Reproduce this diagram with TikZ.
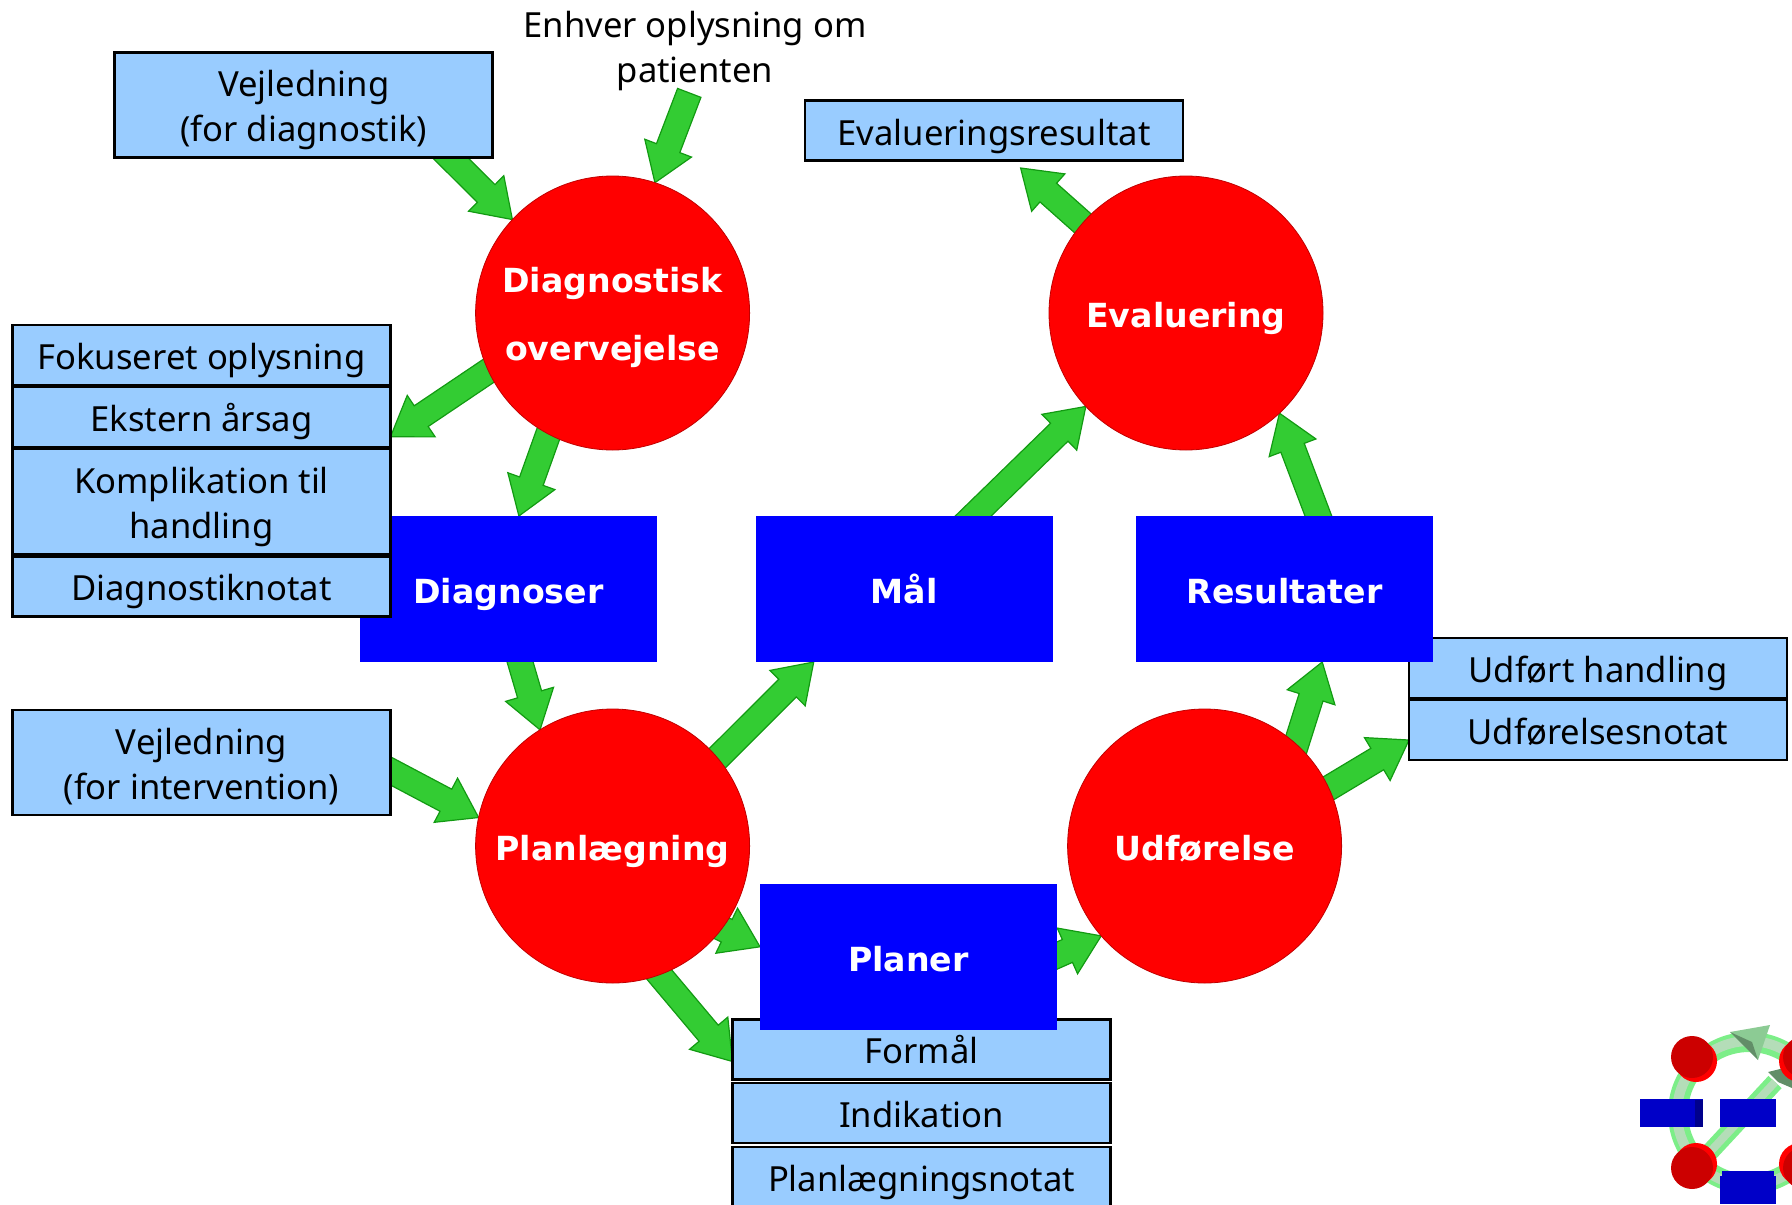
\documentclass[tikz,border=0pt]{standalone}
\usepackage{fontspec}
\setmainfont{Noto Sans}
\newfontfamily\steplabel{DejaVu Sans}
\usetikzlibrary{calc,backgrounds}
\definecolor{arrowfill}{HTML}{33CC33}
\definecolor{arrowedge}{HTML}{129A12}
\definecolor{infofill}{HTML}{99CCFF}
\definecolor{stepred}{HTML}{FF0000}
\definecolor{stepedge}{HTML}{C00000}
\definecolor{stateblue}{HTML}{0000FF}
\definecolor{iconred}{HTML}{CC0000}
\definecolor{iconblue}{HTML}{0000C8}
\definecolor{iconring}{HTML}{7CEE88}
\definecolor{icontube}{HTML}{B4DDB8}
\definecolor{iconcone}{HTML}{8CCB94}
\tikzset{
	baselines/.style 2 args={execute at begin node={\rule{0pt}{#1}},execute at end node={\rule[-#2]{0pt}{#2}}},
	stepcircle/.style={circle,fill=stepred,draw=stepedge,line width=0.4pt,minimum size=137pt,inner sep=0pt,outer sep=0pt,text=white,align=center,font=\fontsize{16.6}{34}\steplabel\bfseries,baselines={19pt}{5pt}},
	steptwo/.style={stepcircle,baselines={52.8pt}{5pt}},
	statebox/.style={rectangle,fill=stateblue,minimum width=148.5pt,minimum height=73pt,inner sep=0pt,outer sep=0pt,text=white,font=\fontsize{16.6}{22}\steplabel\bfseries,baselines={19.5pt}{5pt}},
	infotext/.style={inner sep=0pt,outer sep=0pt,align=center,font=\fontsize{17.3}{22.5}\selectfont,baselines={19.4pt}{5pt}},
	infotexttwo/.style={infotext,baselines={41.9pt}{5pt}},
	infobox/.style={rectangle,fill=infofill,draw=black,line width=1.4pt,minimum width=189pt},
	infoline/.style={infotext,infobox,minimum height=30pt},
	infotwo/.style={infotexttwo,infobox,minimum height=52.5pt},
	tail back/.initial=8pt,
	blockarrow/.style={fill=arrowfill,draw=arrowedge,line width=0.6pt,line join=miter,
		to path={let \p2=(\tikztostart),\p3=(\tikztotarget),\p1=($(\p3)-(\p2)$),\n1={atan2(\y1,\x1)} in
			($(\p2)+(\n1:-\pgfkeysvalueof{/tikz/tail back})+(\n1+90:6.25pt)$)
			-- ($(\p3)+(\n1:-18.5pt)+(\n1+90:6.25pt)$)
			-- ($(\p3)+(\n1:-18.5pt)+(\n1+90:12.5pt)$)
			-- (\p3)
			-- ($(\p3)+(\n1:-18.5pt)+(\n1-90:12.5pt)$)
			-- ($(\p3)+(\n1:-18.5pt)+(\n1-90:6.25pt)$)
			-- ($(\p2)+(\n1:-\pgfkeysvalueof{/tikz/tail back})+(\n1-90:6.25pt)$) -- cycle}}
}
\begin{document}
\begin{tikzpicture}[x=0.5pt,y=-0.5pt]
	\clip (0,0) rectangle (1792,1204);

	% the four steps
	\node[steptwo] (diagnostisk) at (612.6,313) {Diagnostisk\\overvejelse};
	\node[stepcircle] (evaluering) at (1186,313) {Evaluering};
	\node[stepcircle] (planlaegning) at (612.6,846) {Planlægning};
	\node[stepcircle] (udforelse) at (1204.6,846) {Udførelse};

	\node[statebox] (diagnoser) at (508.5,589) {Diagnoser};
	\node[statebox] (maal) at (904,589) {Mål};

	% info boxes
	\node[infotwo] (vejldiag) at (303.7,105) {Vejledning\\(for diagnostik)};
	\node[infoline] (fokuseret) at (201.5,355) {Fokuseret oplysning};
	\node[infoline] (ekstern) at (201.5,417) {Ekstern årsag};
	\node[infotwo] (komplikation) at (201.5,501.5) {Komplikation til\\handling};
	\node[infoline] (diagnotat) at (201.5,586.5) {Diagnostiknotat};
	\node[infotwo] (vejlint) at (201.5,762.5) {Vejledning\\(for intervention)};
	\node[infoline] (evalres) at (994,130.7) {Evalueringsresultat};
	\node[infoline] (udfort) at (1598,668) {Udført handling};
	\node[infoline] (udfnotat) at (1598,730) {Udførelsesnotat};
	\node[infoline] (formaal) at (921.5,1049.5) {Formål};
	\node[infoline] (indikation) at (921.5,1113) {Indikation};
	\node[infoline] (plannotat) at (921.5,1177) {Planlægningsnotat};
	\node[statebox] (planer) at (908.5,957) {Planer};
	\node[statebox] (resultater) at (1284.5,589) {Resultater};

	\node[infotexttwo] (enhver) at (695,46) {Enhver oplysning om\\patienten};
	\coordinate (evalrestip) at (1020.6,168);

	\begin{pgfonlayer}{background}
	\draw[blockarrow] ($(vejldiag.south west)!.887!(vejldiag.south east)$) to (diagnostisk.137.7);
	\draw[blockarrow,tail back=0pt] (enhver.-97) to (diagnostisk.72.3);
	\draw[blockarrow] (diagnostisk.205.3) to ($(ekstern.north east)!.83!(ekstern.south east)$);
	\draw[blockarrow] (diagnostisk.242.8) to ($(diagnoser.north west)!.535!(diagnoser.north east)$);
	\draw[blockarrow] ($(diagnoser.south west)!.539!(diagnoser.south east)$) to (planlaegning.122);
	\draw[blockarrow] (planlaegning.40) to ($(maal.south west)!.196!(maal.south east)$);
	\draw[blockarrow] ($(maal.north west)!.733!(maal.north east)$) to (evaluering.223.8);
	\draw[blockarrow] ($(resultater.north west)!.614!(resultater.north east)$) to (evaluering.-47.7);
	\draw[blockarrow] (evaluering.139.7) to (evalrestip);
	\draw[blockarrow] (udforelse.48.8) to ($(resultater.south west)!.627!(resultater.south east)$);
	\draw[blockarrow] (udforelse.25.5) to ($(udfnotat.north west)!.667!(udfnotat.south west)$);
	\draw[blockarrow] ($(planer.north east)!.49!(planer.south east)$) to (udforelse.221.3);
	\draw[blockarrow] (planlaegning.-37.2) to ($(planer.north west)!.43!(planer.south west)$);
	\draw[blockarrow] (planlaegning.-70.2) to ($(formaal.north west)!.7!(formaal.south west)$);
	\draw[blockarrow] ($(vejlint.north east)!.58!(vejlint.south east)$) to (planlaegning.168.4);
	\end{pgfonlayer}

	% small cycle icon
	\draw[iconring,line width=10pt] (1749,1113) circle [radius=71];
	\draw[icontube,line width=5pt] (1749,1113) circle [radius=72];
	\draw[iconring,line width=9pt] (1709,1153) -- (1775,1082);
	\draw[icontube,line width=4pt] (1709,1153) -- (1775,1082);
	\fill[iconcone] (1730,1032) -- (1770,1025) -- (1758,1060) -- cycle;
	\fill[iconcone!70!black] (1730,1032) -- (1752,1042) -- (1758,1060) -- cycle;
	\fill[iconcone!70!black] (1768,1072) -- (1792,1066) -- (1792,1088) -- (1778,1082) -- cycle;
	\fill[stepred] (1696,1061) circle [radius=21];
	\fill[iconred] (1692,1057) circle [radius=21];
	\fill[stepred] (1696,1164) circle [radius=21];
	\fill[iconred] (1692,1168) circle [radius=21];
	\fill[stepred] (1800,1061) circle [radius=21];
	\fill[iconred] (1804,1057) circle [radius=21];
	\fill[stepred] (1800,1164) circle [radius=21];
	\fill[iconred] (1804,1168) circle [radius=21];
	\fill[iconblue] (1640,1099) rectangle (1703,1127);
	\fill[iconblue!70!black] (1695,1100) rectangle (1703,1127);
	\fill[iconblue] (1720,1099) rectangle (1776,1127);
	\fill[iconblue] (1722,1171) rectangle (1774,1176);
	\fill[iconblue] (1720,1176) rectangle (1776,1204);
\end{tikzpicture}
\end{document}
